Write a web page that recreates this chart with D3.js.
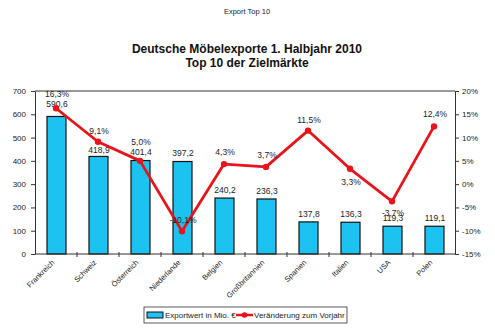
<!DOCTYPE html>
<html>
<head>
<meta charset="utf-8">
<script src="https://cdn.jsdelivr.net/npm/d3@7"></script>
<style>
  html, body { margin: 0; padding: 0; background: #fff; }
  svg { display: block; font-family: "Liberation Sans", Arial, sans-serif; }
</style>
</head>
<body>
<svg id="chart" width="495" height="331"></svg>
<script>
// Top 10 destination markets for German furniture exports, H1 2010
const markets = ["Frankreich", "Schweiz", "Österreich", "Niederlande", "Belgien",
                 "Großbritannien", "Spanien", "Italien", "USA", "Polen"];
const exportValues = [590.6, 418.9, 401.4, 397.2, 240.2, 236.3, 137.8, 136.3, 119.3, 119.1];
const changePct = [16.3, 9.1, 5.0, -10.1, 4.3, 3.7, 11.5, 3.3, -3.7, 12.4];
const leftTicks = [0, 100, 200, 300, 400, 500, 600, 700];
const rightTicks = [-15, -10, -5, 0, 5, 10, 15, 20];
const legendLabels = ["Exportwert in Mio. €", "Veränderung zum Vorjahr"];

const svg = d3.select("#chart");
const plot = { left: 35, right: 455, top: 91, bottom: 254 };
const fmt = v => v.toFixed(1).replace(".", ",");

// Label placement (baseline offset from the mark), tuned so labels don't collide
const barLabelDy = [-9, -3, -6, -6, -5, -5, -5, -5, -5, -5];
const pctLabelDy = [-11, -8, -16, -8, -9, -9, -8, 16, 15, -9];

const x = d3.scaleBand().domain(markets).range([plot.left, plot.right]).paddingInner(0).paddingOuter(0);
const yL = d3.scaleLinear().domain([0, 700]).range([plot.bottom, plot.top]);
const yR = d3.scaleLinear().domain([-15, 20]).range([plot.bottom, plot.top]);
const cx = d => x(d) + x.bandwidth() / 2;

// Headings
svg.append("text").attr("x", 247).attr("y", 14).attr("text-anchor", "middle")
  .attr("font-size", 7.5).attr("fill", "#222").text("Export Top 10");
svg.append("text").attr("x", 247).attr("y", 53).attr("text-anchor", "middle")
  .attr("font-size", 12).attr("font-weight", "bold").attr("fill", "#111")
  .text("Deutsche Möbelexporte 1. Halbjahr 2010");
svg.append("text").attr("x", 247).attr("y", 67).attr("text-anchor", "middle")
  .attr("font-size", 12).attr("font-weight", "bold").attr("fill", "#111")
  .text("Top 10 der Zielmärkte");

// Plot frame top line
svg.append("line").attr("x1", plot.left).attr("x2", plot.right)
  .attr("y1", plot.top).attr("y2", plot.top).attr("stroke", "#333").attr("stroke-width", 1);

// Bars
const bw = 19;
svg.append("g").selectAll("rect").data(markets).join("rect")
  .attr("x", d => cx(d) - bw / 2 + 0.5)
  .attr("y", (d, i) => yL(exportValues[i]))
  .attr("width", bw)
  .attr("height", (d, i) => plot.bottom - yL(exportValues[i]))
  .attr("fill", "#1cc3f0").attr("stroke", "#111").attr("stroke-width", 1.2);

// Axes
const axisStyle = g => {
  g.select(".domain").attr("stroke", "#333");
  g.selectAll(".tick line").attr("stroke", "#333");
  g.selectAll(".tick text").attr("font-size", 8).attr("fill", "#222")
    .attr("font-family", "'Liberation Sans', Arial, sans-serif");
};
svg.append("g").attr("transform", `translate(${plot.left},0)`)
  .call(d3.axisLeft(yL).tickValues(leftTicks).tickSize(4).tickSizeOuter(0).tickPadding(5))
  .call(axisStyle);
svg.append("g").attr("transform", `translate(${plot.right},0)`)
  .call(d3.axisRight(yR).tickValues(rightTicks).tickSize(4).tickSizeOuter(0).tickPadding(3)
    .tickFormat(d => d + "%"))
  .call(axisStyle);

// Category axis: ticks sit between categories
const xAxis = svg.append("g").attr("transform", `translate(0,${plot.bottom})`);
xAxis.append("line").attr("x1", plot.left).attr("x2", plot.right)
  .attr("stroke", "#333");
xAxis.selectAll("line.sep").data(markets.slice(1)).join("line").attr("class", "sep")
  .attr("x1", d => x(d)).attr("x2", d => x(d)).attr("y1", -2).attr("y2", 3)
  .attr("stroke", "#333");
xAxis.selectAll("text").data(markets).join("text")
  .attr("transform", d => `translate(${cx(d) - 1},9) rotate(-45)`)
  .attr("text-anchor", "end").attr("font-size", 7.5).attr("fill", "#222")
  .text(d => d);

// Bar value labels
svg.append("g").selectAll("text").data(markets).join("text")
  .attr("x", d => cx(d) + 1)
  .attr("y", (d, i) => yL(exportValues[i]) + barLabelDy[i])
  .attr("text-anchor", "middle").attr("font-size", 8.5).attr("fill", "#222")
  .text((d, i) => fmt(exportValues[i]));

// Change line
const line = d3.line().x((d, i) => cx(markets[i])).y(d => yR(d));
svg.append("path").datum(changePct).attr("d", line)
  .attr("fill", "none").attr("stroke", "#e8141a").attr("stroke-width", 2.8)
  .attr("stroke-linejoin", "round");
svg.append("g").selectAll("circle").data(changePct).join("circle")
  .attr("cx", (d, i) => cx(markets[i]))
  .attr("cy", d => yR(d)).attr("r", 3.2).attr("fill", "#e8141a");
svg.append("g").selectAll("text").data(changePct).join("text")
  .attr("x", (d, i) => cx(markets[i]) + 1)
  .attr("y", (d, i) => yR(d) + pctLabelDy[i])
  .attr("text-anchor", "middle").attr("font-size", 8.5).attr("fill", "#222")
  .text(d => fmt(d) + "%");

// Legend
const lg = svg.append("g").attr("transform", "translate(144,307)");
lg.append("rect").attr("width", 203).attr("height", 16)
  .attr("fill", "#fff").attr("stroke", "#333").attr("stroke-width", 0.8);
lg.append("rect").attr("x", 3).attr("y", 5).attr("width", 16).attr("height", 6)
  .attr("fill", "#1cc3f0").attr("stroke", "#111").attr("stroke-width", 1);
lg.append("text").attr("x", 21).attr("y", 11).attr("font-size", 8).attr("fill", "#222")
  .text(legendLabels[0]);
lg.append("line").attr("x1", 92).attr("x2", 109).attr("y1", 8).attr("y2", 8)
  .attr("stroke", "#e8141a").attr("stroke-width", 2.5);
lg.append("circle").attr("cx", 100.5).attr("cy", 8).attr("r", 2.8).attr("fill", "#e8141a");
lg.append("text").attr("x", 110).attr("y", 11).attr("font-size", 8).attr("fill", "#222")
  .text(legendLabels[1]);
</script>
</body>
</html>
